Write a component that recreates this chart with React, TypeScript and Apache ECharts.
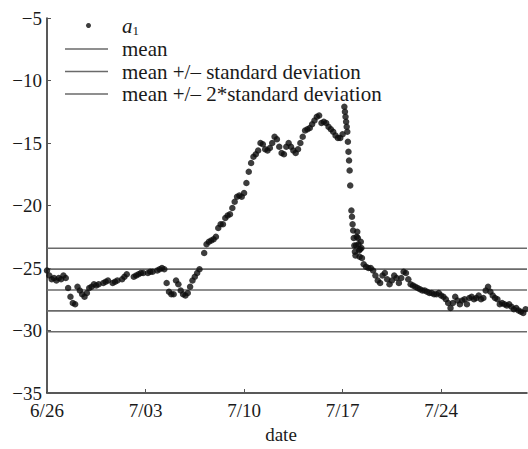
import { useEffect, useRef } from "react";
import * as echarts from "echarts";

// x axis: days since 6/26, one tick per week
const tickLabels = ["6/26", "7/03", "7/10", "7/17", "7/24"];
const tickStepDays = 7;
const dayMax = 34.1;

// a1 readings every 4 hours from 6/26 00:00 (null = no reading)
const a1StepDays = 1 / 6;
const a1Values: (number | null)[] = [
  -25.2, -25.6, -25.9, -25.8, -26.0, -25.8,
  -25.9, -25.6, -25.8, -26.6, -27.3, -27.8,
  -27.9, -26.5, -26.8, -27.1, -27.3, -27.0,
  -26.6, -26.5, -26.3, -26.4, -26.3, null,
  -26.2, -26.1, -26.0, null, -26.2, -26.1,
  -26.0, null, -25.9, -25.7, -25.5, null,
  null, -25.7, -25.6, -25.5, -25.4, -25.4,
  null, -25.4, -25.3, -25.3, null, -25.2,
  -25.1, -25.0, -25.1, -26.2, -26.9, -27.1,
  -27.1, -26.0, -26.3, -26.8, -27.1, -27.2,
  -27.0, -26.5, -26.0, -25.7, -25.4, -25.1,
  null, -23.8, -23.1, -22.9, -22.8, -22.7,
  -22.5, -21.8, -21.5, -21.5, -21.0, -20.8,
  -20.7, -20.2, -19.7, -19.3, -19.2, -19.3,
  -19.0, -18.2, -17.3, -16.6, -16.1, -15.9,
  -15.6, -15.0, -15.1, -15.5, -15.6, -15.4,
  -15.0, -14.5, -14.7, -15.3, -15.8, -15.9,
  -15.3, -15.0, -15.3, -15.6, -15.8, -15.5,
  -15.0, -14.5, -14.0, -13.9, -13.8, -13.5,
  -13.2, -12.9, -12.8, -13.4, -13.3, -13.4,
  -13.7, -13.9, -14.1, -14.4, -14.6, -14.6,
  -14.3, null, null, null, null, null,
  null, null, null, -24.7, -24.9, -25.0,
  -25.0, -25.2, -25.6, -26.0, -26.2, -25.6,
  -25.4, -25.9, -26.3, -26.0, -25.6, -25.8,
  -26.2, -25.8, -25.3, -25.4, -25.9, -26.3,
  -26.4, -26.5, -26.6, -26.7, -26.8, -26.8,
  -26.9, -27.0, -27.0, -27.1, -27.1, -27.0,
  -27.2, -27.3, -27.5, -27.8, -28.2, -27.8,
  -27.3, -27.6, -27.9, -27.6, -27.5, -27.9,
  -27.4, -27.3, -27.5, -27.4, -27.2, -27.5,
  -27.4, -26.8, -26.5, -26.9, -27.2, -27.4,
  -27.5, -27.9, -27.8, -27.9, -28.0, -27.9,
  -28.1, -28.3, -28.2, -28.4, -28.5, -28.6,
  -28.3,
];

// hourly a1 readings around the 7/17 collapse
const a1DropStartDay = 21.125;
const a1DropStepDays = 1 / 24;
const a1DropValues: (number | null)[] = [
  -12.1, -12.5, -12.9, -13.3, -13.7, -14.1, -14.9, -15.7, -16.4, -17.2,
  -18.4, null, -20.4, -20.9, -21.5, -22.0, -22.6, -23.2, -23.7, -24.0,
  -23.2, -22.5, -22.1, -22.6, -23.1, -23.6, -24.1, -23.5, -22.9, -23.4,
  -24.2,
];

// reference statistics
const a1Mean = -26.76;
const a1Sd = 1.67;

const NAME_A1 = "a1";
const NAME_MEAN = "mean";
const NAME_SD = "mean +/\u2013 standard deviation";
const NAME_2SD = "mean +/\u2013 2*standard deviation";

const FONT = "Liberation Serif, Times New Roman, DejaVu Serif, serif";
const LINE_COLOR = "#6a6a6a";
const TEXT_COLOR = "#1a1a1a";

function levelLine(name: string, y: number) {
  return {
    type: "line",
    name,
    data: [
      [0, y],
      [dayMax, y],
    ],
    symbol: "none",
    silent: true,
    color: LINE_COLOR,
    lineStyle: { color: LINE_COLOR, width: 1.6 },
    z: 1,
  };
}

export default function App() {
  const ref = useRef<HTMLDivElement>(null);

  useEffect(() => {
    if (!ref.current) return;
    const chart = echarts.init(ref.current, null, { renderer: "svg" });

    const points: number[][] = [];
    a1Values.forEach((v, i) => {
      if (v !== null) points.push([i * a1StepDays, v]);
    });
    a1DropValues.forEach((v, i) => {
      if (v !== null) points.push([a1DropStartDay + i * a1DropStepDays, v]);
    });

    const option = {
      animation: false,
      backgroundColor: "#fff",
      textStyle: { fontFamily: FONT },
      grid: { left: 47, right: 1, top: 18, bottom: 52, containLabel: false },
      xAxis: {
        type: "value",
        min: 0,
        max: dayMax,
        interval: tickStepDays,
        name: "date",
        nameLocation: "middle",
        nameGap: 32,
        nameTextStyle: {
          fontFamily: FONT,
          fontSize: 19,
          color: TEXT_COLOR,
          padding: [0, 12, 0, 0],
        },
        axisLine: { lineStyle: { color: "#222", width: 1.5 } },
        axisTick: { inside: true, length: 4, lineStyle: { color: "#555" } },
        axisLabel: {
          fontFamily: FONT,
          fontSize: 19,
          color: TEXT_COLOR,
          margin: 8,
          showMaxLabel: false,
          formatter: (v: number) => tickLabels[Math.round(v / tickStepDays)] ?? "",
        },
        splitLine: { show: false },
      },
      yAxis: {
        type: "value",
        min: -35,
        max: -5,
        interval: 5,
        axisLine: { show: true, lineStyle: { color: "#222", width: 1.5 } },
        axisTick: { show: true, inside: true, length: 4, lineStyle: { color: "#555" } },
        axisLabel: {
          fontFamily: FONT,
          fontSize: 19,
          color: TEXT_COLOR,
          margin: 5,
          formatter: (v: number) => String(v).replace("-", "\u2212"),
        },
        splitLine: { show: false },
      },
      legend: [
        {
          data: [NAME_A1],
          orient: "vertical",
          left: 86,
          top: 15,
          padding: 0,
          icon: "circle",
          itemWidth: 5,
          itemHeight: 5,
          selectedMode: false,
          formatter: () => "{a|a}{s|1}",
          textStyle: {
            fontFamily: FONT,
            fontSize: 21,
            color: TEXT_COLOR,
            padding: [0, 0, 0, 26],
            rich: {
              a: { fontFamily: FONT, fontSize: 21, fontStyle: "italic", color: TEXT_COLOR, lineHeight: 22 },
              s: { fontFamily: FONT, fontSize: 13, color: TEXT_COLOR, verticalAlign: "bottom", lineHeight: 14 },
            },
          },
        },
        {
          data: [NAME_MEAN, NAME_SD, NAME_2SD],
          orient: "vertical",
          left: 65,
          top: 38,
          padding: 0,
          icon: "rect",
          itemWidth: 43,
          itemHeight: 1.6,
          itemGap: 0.5,
          itemStyle: { color: LINE_COLOR, borderWidth: 0 },
          selectedMode: false,
          textStyle: {
            fontFamily: FONT,
            fontSize: 21,
            lineHeight: 22,
            color: TEXT_COLOR,
            padding: [0, 0, 0, 9],
          },
        },
      ],
      series: [
        levelLine(NAME_MEAN, a1Mean),
        levelLine(NAME_SD, a1Mean + a1Sd),
        levelLine(NAME_SD, a1Mean - a1Sd),
        levelLine(NAME_2SD, a1Mean + 2 * a1Sd),
        levelLine(NAME_2SD, a1Mean - 2 * a1Sd),
        {
          type: "scatter",
          name: NAME_A1,
          data: points,
          symbol: "circle",
          symbolSize: 6.5,
          itemStyle: { color: "#0d0d0d" },
          z: 3,
        },
      ],
    };

    chart.setOption(option as any);
    return () => chart.dispose();
  }, []);

  return (
    <div
      ref={ref}
      style={{ position: "fixed", left: 0, top: 0, width: 528, height: 449 }}
    />
  );
}
